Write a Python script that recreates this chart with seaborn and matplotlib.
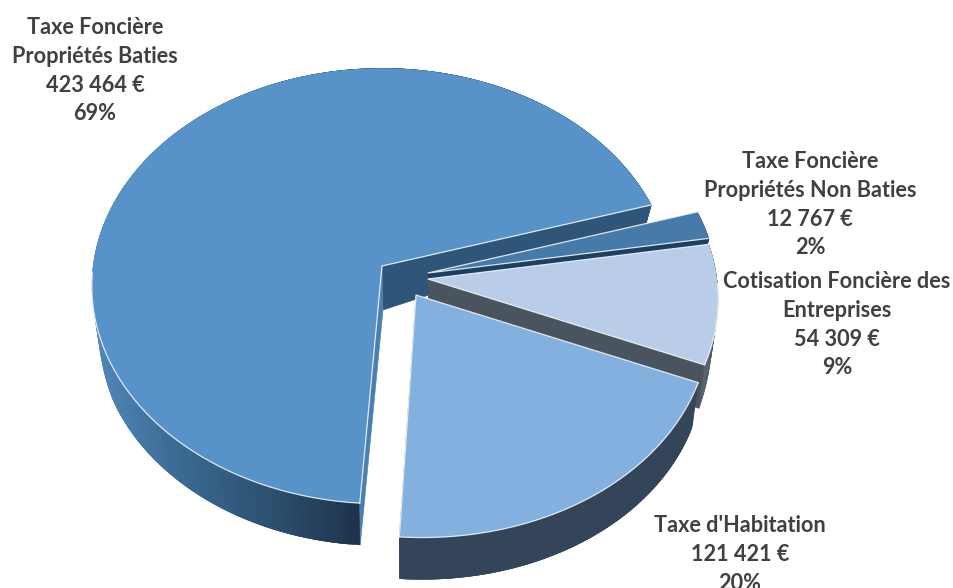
import numpy as np
import matplotlib
matplotlib.use("Agg")
import matplotlib.pyplot as plt
from matplotlib.collections import PolyCollection
from matplotlib.patches import Polygon
import seaborn as sns

# Recettes fiscales par taxe
names = [
    "Taxe Foncière\nPropriétés Baties",
    "Taxe Foncière\nPropriétés Non Baties",
    "Cotisation Foncière des\nEntreprises",
    "Taxe d'Habitation",
]
values = [423464, 12767, 54309, 121421]

# Apparence de chaque part
top_colors = ["#5792c9", "#467aa9", "#b9cde8", "#83b0de"]
side_colors = ["#2f5578", "#1d3f62", "#4a545e", "#34455a"]
rim_ramps = [
    ["#4f86b8", "#3a688f", "#2c5070", "#1f3349"],
    ["#1d3f62", "#1d3f62"],
    ["#5a6570", "#4a545e"],
    ["#34455a", "#34455a"],
]
pull_out = [(-23, -14), (23, -7), (23, -1), (11, 15)]
rim_scale = [1.0, 1.0, 1.0, 1.02]
rim_shear = [0.0, 0.0, 0.0, 0.038]
SHEAR_START = 85.0
label_anchor = [(95, 27), (810, 161), (837, 281), (740, 525)]

CENTER = np.array([405.0, 280.0])
RADIUS_X, RADIUS_Y = 289.0, 216.0
PERSPECTIVE = 0.0917
FIRST_ANGLE = 184.0
TEXT_COLOR = "#404040"
APEX_DEPTH = 44

sns.set_theme(style="white")
plt.rcParams["font.family"] = ["Lato", "DejaVu Sans"]

fig = plt.figure(figsize=(9.54, 5.88), dpi=100)
ax = fig.add_axes([0, 0, 1, 1])
ax.set_xlim(0, 954)
ax.set_ylim(588, 0)
ax.axis("off")


def rim_points(theta_deg, apex, scale, shear):
    """Projette des angles du disque sur l'écran, avec un léger effet de perspective."""
    t = np.radians(theta_deg)
    u, v = np.sin(t), np.cos(t)
    f = scale / (1.0 + PERSPECTIVE * v)
    dy = -RADIUS_Y * v * f
    dx = RADIUS_X * u * f + shear * np.maximum(dy - SHEAR_START, 0)
    return np.column_stack([apex[0] + dx, apex[1] + dy]), v


def extrude(pts, v, apex):
    """Point bas de la paroi sous chaque point du bord."""
    depth = np.interp(v, [-1.0, -0.4, 0.0, 0.3], [42, 44, 30, 19])
    out = pts.copy()
    out[:, 0] = apex[0] + (pts[:, 0] - apex[0]) * 0.98
    out[:, 1] = pts[:, 1] + depth
    return out


spans = np.array(values) / np.sum(values) * 360.0
starts = FIRST_ANGLE + np.concatenate([[0], np.cumsum(spans)[:-1]])

for i, value in enumerate(values):
    apex = CENTER + np.array(pull_out[i])
    thetas = np.linspace(starts[i], starts[i] + spans[i], 240)
    top, v = rim_points(thetas, apex, rim_scale[i], rim_shear[i])
    bottom = extrude(top, v, apex)
    apex_low = apex + np.array([1, APEX_DEPTH])

    # Paroi extérieure : les tranches se chevauchent pour éviter les joints du dégradé
    n = len(top)
    quads = [[top[k], top[min(k + 3, n - 1)], bottom[min(k + 3, n - 1)], bottom[k]] for k in range(n - 1)]
    ramp = sns.blend_palette(rim_ramps[i], as_cmap=True)
    xmin, xmax = (97, 362) if i == 0 else (top[:, 0].min(), top[:, 0].max())
    shades = ramp(np.clip((top[:-1, 0] - xmin) / (xmax - xmin), 0, 1))
    ax.add_collection(PolyCollection(quads, facecolors=shades, edgecolors="none", zorder=i * 10 + 1))

    # Paroi radiale de fin de part
    ax.add_patch(Polygon([apex, top[-1], bottom[-1], apex_low], closed=True,
                         facecolor=side_colors[i], edgecolor=side_colors[i], lw=0.4, zorder=i * 10 + 2))
    # Paroi radiale de début de part, visible seulement sur la grande part
    if i == 0:
        ax.add_patch(Polygon([apex, top[0], bottom[0], apex_low], closed=True,
                             facecolor="#4a80b0", edgecolor="#4a80b0", lw=0.4, zorder=i * 10 + 2))

    # Face supérieure
    ax.add_patch(Polygon(np.vstack([apex, top]), closed=True, facecolor=top_colors[i],
                         edgecolor="none", zorder=i * 10 + 3))

    # Liseré clair : les deux rayons et la partie avant du bord
    front = top.copy()
    front[v > -0.02] = np.nan
    edge = dict(color="#eef3f9", lw=0.9, alpha=0.9, zorder=i * 10 + 4)
    ax.plot(front[:, 0], front[:, 1], **edge)
    ax.plot([top[0, 0], apex[0], top[-1, 0]], [top[0, 1], apex[1], top[-1, 1]], **edge)

# Étiquettes : nom, montant, part
total = sum(values)
for name, value, anchor in zip(names, values, label_anchor):
    amount = f"{value:,}".replace(",", " ") + " €"
    share = f"{value / total * 100:.0f}%"
    for k, line in enumerate(name.split("\n") + [amount, share]):
        ax.text(anchor[0], anchor[1] + 1 + k * 28.6, line, ha="center", va="center",
                fontsize=15.6, fontweight="bold", color=TEXT_COLOR, zorder=100)

fig.savefig("out.png", dpi=100, facecolor="white")
